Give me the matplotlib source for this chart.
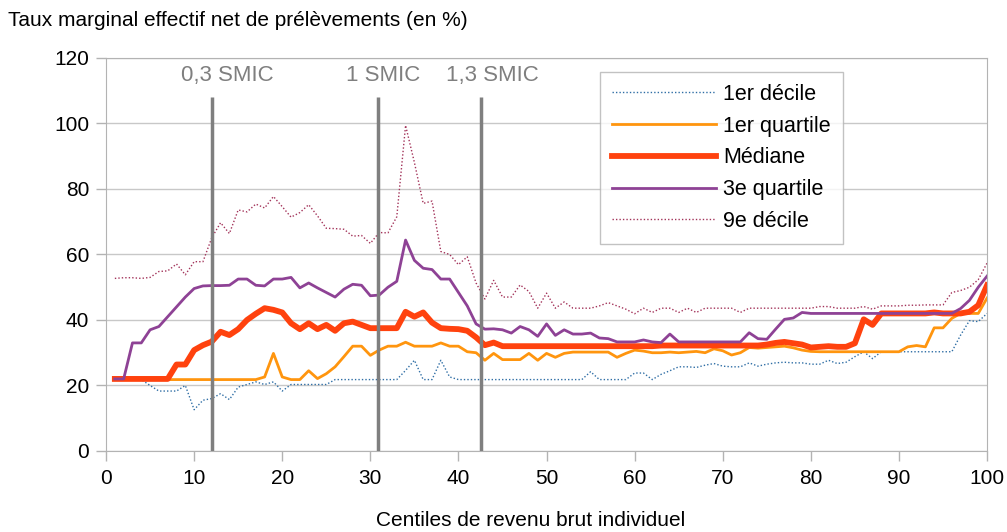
import matplotlib
matplotlib.use("Agg")
import matplotlib.pyplot as plt
import numpy as np

plt.rcParams['font.family'] = ['Liberation Sans', 'DejaVu Sans']

# Centiles 1..100
centiles = np.arange(1, 101)

decile1 = [21.8, 21.8, 21.8, 21.8, 20.0, 18.3, 18.3, 18.3, 20.0, 12.6,
           15.5, 16.0, 17.5, 15.7, 19.5, 20.3, 21.1, 20.3, 21.1, 18.3,
           20.3, 20.3, 20.3, 20.3, 20.3, 21.8, 21.8, 21.8, 21.8, 21.8,
           21.8, 21.8, 21.8, 24.6, 27.7, 21.8, 21.8, 27.7, 22.6, 21.8,
           21.8, 21.8, 21.8, 21.8, 21.8, 21.8, 21.8, 21.8, 21.8, 21.8,
           21.8, 21.8, 21.8, 21.8, 24.2, 21.8, 21.8, 21.8, 21.8, 23.8,
           23.8, 21.8, 23.4, 24.5, 25.7, 25.7, 25.5, 26.2, 26.7, 25.9,
           25.7, 25.7, 26.9, 25.9, 26.5, 26.9, 27.1, 26.9, 26.9, 26.5,
           26.5, 27.7, 26.7, 27.1, 28.8, 30.3, 28.2, 30.3, 30.3, 30.3,
           30.3, 30.3, 30.3, 30.3, 30.3, 30.3, 35.4, 39.8, 39.5, 42.0]

quartile1 = [21.8, 21.8, 21.8, 21.8, 21.8, 21.8, 21.8, 21.8, 21.8, 21.8,
             21.8, 21.8, 21.8, 21.8, 21.8, 21.8, 21.8, 22.6, 29.8, 22.6,
             21.8, 21.8, 24.5, 22.1, 23.6, 25.7, 28.8, 32.0, 32.0, 29.2,
             30.8, 32.0, 32.0, 33.2, 32.0, 32.0, 32.0, 33.0, 32.0, 32.0,
             30.3, 30.0, 27.7, 29.8, 27.9, 27.9, 27.9, 29.8, 27.7, 29.8,
             28.6, 29.8, 30.2, 30.2, 30.2, 30.2, 30.2, 28.6, 29.8, 30.8,
             30.5, 30.0, 30.0, 30.2, 30.0, 30.2, 30.4, 30.0, 31.2, 30.6,
             29.3, 30.0, 31.6, 31.4, 31.6, 31.8, 32.0, 31.5, 30.8, 30.4,
             30.3, 30.3, 30.3, 30.3, 30.3, 30.3, 30.3, 30.3, 30.3, 30.3,
             31.8, 32.2, 31.8, 37.6, 37.6, 40.5, 42.0, 42.0, 42.0, 46.7]

mediane = [22.0, 22.0, 22.0, 22.0, 22.0, 22.0, 22.0, 26.4, 26.4, 30.8,
           32.3, 33.4, 36.4, 35.4, 37.2, 40.0, 41.9, 43.6, 43.1, 42.3,
           39.0, 37.2, 39.0, 37.2, 38.5, 36.7, 39.0, 39.5, 38.5, 37.5,
           37.5, 37.5, 37.5, 42.5, 41.0, 42.3, 39.2, 37.5, 37.3, 37.2,
           36.7, 34.7, 32.3, 33.1, 32.0, 32.0, 32.0, 32.0, 32.0, 32.0,
           32.0, 32.0, 32.0, 32.0, 32.0, 32.0, 32.0, 32.0, 32.0, 32.0,
           32.0, 32.0, 32.2, 32.2, 32.2, 32.2, 32.2, 32.2, 32.2, 32.2,
           32.2, 32.2, 32.2, 32.2, 32.5, 33.0, 33.3, 32.9, 32.5, 31.6,
           31.8, 32.0, 31.8, 31.8, 32.9, 40.2, 38.5, 42.0, 42.0, 42.0,
           42.0, 42.0, 42.0, 42.3, 42.0, 42.0, 42.0, 42.5, 44.5, 50.6]

quartile3 = [22.0, 22.0, 33.0, 33.0, 37.0, 38.0, 41.0, 44.0, 47.0, 49.6,
             50.4, 50.5, 50.5, 50.6, 52.5, 52.5, 50.6, 50.4, 52.5, 52.5,
             53.0, 49.8, 51.3, 49.8, 48.4, 47.0, 49.4, 50.9, 50.6, 47.4,
             47.6, 50.0, 51.8, 64.4, 58.2, 55.8, 55.4, 52.5, 52.5, 48.4,
             44.3, 38.8, 37.2, 37.3, 37.0, 36.0, 38.0, 37.0, 35.0, 38.8,
             35.3, 37.0, 35.7, 35.7, 36.0, 34.5, 34.3, 33.3, 33.3, 33.3,
             33.9, 33.3, 33.1, 35.7, 33.3, 33.3, 33.3, 33.3, 33.3, 33.3,
             33.3, 33.3, 36.1, 34.3, 34.1, 37.2, 40.2, 40.6, 42.3, 42.0,
             42.0, 42.0, 42.0, 42.0, 42.0, 42.0, 42.0, 42.0, 42.0, 42.0,
             42.0, 42.0, 42.0, 42.0, 42.0, 42.0, 43.5, 46.0, 50.0, 53.4]

decile9 = [52.7, 52.9, 52.9, 52.7, 53.0, 54.8, 55.0, 57.1, 53.8, 57.8,
           57.8, 65.1, 69.7, 66.4, 73.6, 73.0, 75.4, 74.2, 77.7, 74.6,
           71.4, 72.8, 75.2, 71.8, 68.0, 67.9, 67.7, 65.6, 65.8, 63.4,
           66.7, 66.6, 71.5, 99.4, 88.1, 75.6, 76.3, 60.9, 60.0, 56.9,
           59.3, 51.3, 46.4, 52.1, 47.0, 47.0, 50.7, 48.7, 43.6, 48.2,
           43.6, 45.5, 43.6, 43.6, 43.6, 44.3, 45.3, 44.3, 43.3, 41.9,
           43.6, 42.3, 43.6, 43.6, 42.3, 43.6, 42.3, 43.6, 43.6, 43.6,
           43.6, 42.3, 43.6, 43.6, 43.6, 43.6, 43.6, 43.6, 43.6, 43.6,
           44.1, 44.1, 43.6, 43.6, 43.6, 44.1, 43.3, 44.3, 44.3, 44.3,
           44.5, 44.5, 44.6, 44.6, 44.6, 48.4, 49.0, 50.0, 52.3, 57.4]

smic_pos = [12.05, 30.9, 42.6]
smic_labels = ["0,3 SMIC", "1 SMIC", "1,3 SMIC"]
smic_label_x = [13.8, 31.4, 43.8]

fig = plt.figure(figsize=(10.07, 5.32), dpi=100)
ax = fig.add_axes([0.1053, 0.1523, 0.8749, 0.7387])

ax.plot(centiles, decile1, color="#2f6ea5", lw=1.0, ls=(0, (1, 1.5)), label="1er décile")
ax.plot(centiles, quartile1, color="#ff950e", lw=2.0, label="1er quartile")
ax.plot(centiles, mediane, color="#ff420e", lw=4.2, label="Médiane")
ax.plot(centiles, quartile3, color="#8e4295", lw=2.0, label="3e quartile")
ax.plot(centiles, decile9, color="#a3335a", lw=1.0, ls=(0, (1, 1.5)), label="9e décile")

# repères SMIC
for xp, lab, lx in zip(smic_pos, smic_labels, smic_label_x):
    ax.vlines(xp, 0, 108, color="#7f7f7f", lw=2.5, zorder=5)
    ax.text(lx, 114.8, lab, color="#7f7f7f", fontsize=16, ha="center", va="center")

ax.set_xlim(0, 100)
ax.set_ylim(0, 120)
ax.set_xticks(range(0, 101, 10))
ax.set_yticks(range(0, 121, 20))
ax.tick_params(labelsize=15, color="#b3b3b3", length=7, width=1)
ax.tick_params(axis="y", pad=5)
ax.tick_params(axis="x", pad=6)
ax.grid(axis="y", color="#c8c8c8", lw=1)
ax.set_axisbelow(True)
for s in ax.spines.values():
    s.set_color("#b3b3b3")

leg = ax.legend(loc="upper left", bbox_to_anchor=(0.5607, 0.9644), fontsize=15.5,
                handlelength=4.85, frameon=True, fancybox=False, borderpad=0.55,
                borderaxespad=0, labelspacing=0.5, handletextpad=0.33)
leg.get_frame().set_edgecolor("#b3b3b3")
leg.get_frame().set_linewidth(1)

fig.text(0.008, 0.962, "Taux marginal effectif net de prélèvements (en %)", fontsize=15,
         ha="left", va="center")
fig.text(0.527, 0.022, "Centiles de revenu brut individuel", fontsize=15,
         ha="center", va="center")

fig.savefig("out.png", dpi=100)
